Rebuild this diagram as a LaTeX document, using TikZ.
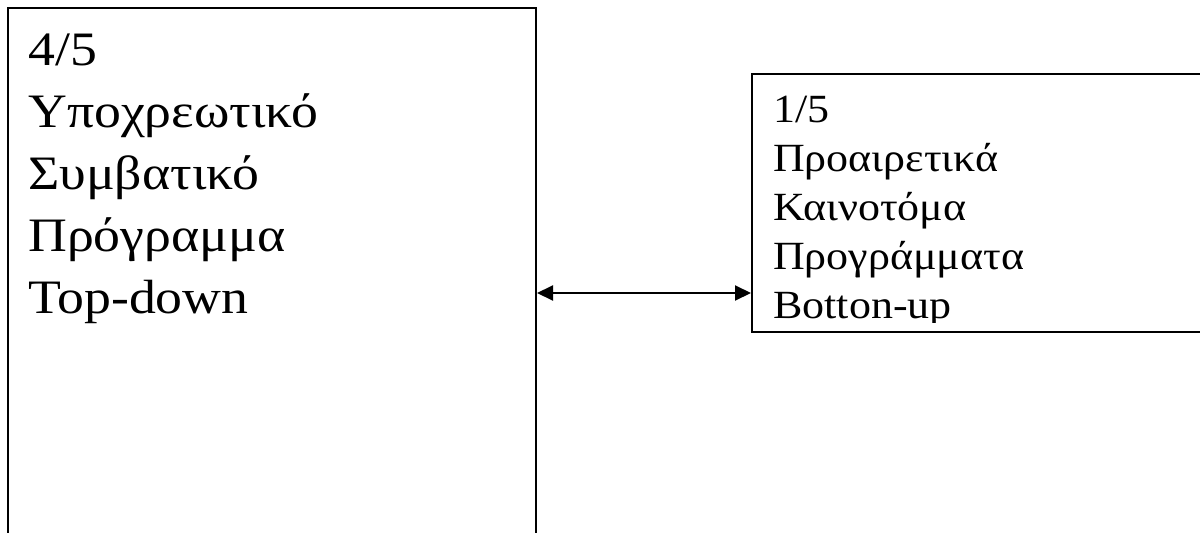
\documentclass[tikz,border=0pt]{standalone}
\usepackage{fontspec}
\usepackage{graphicx}
\setmainfont{Liberation Serif}
\usetikzlibrary{arrows.meta}

\begin{document}
\begin{tikzpicture}[x=1pt,y=1pt]
      \tikzstyle{frame} = [rectangle, draw, line width=2pt, inner sep=0pt, anchor=north west]
      \tikzstyle{bigline} = [anchor=base west, inner sep=0pt, font=\fontsize{48}{58}\selectfont]
      \tikzstyle{smallline} = [anchor=base west, inner sep=0pt, font=\fontsize{40}{48}\selectfont]
      \useasboundingbox (0,0) rectangle (1200,-533);
      \clip (0,0) rectangle (1200,-533);
      % the two boxes
      \node (compulsory) [frame, minimum width=528pt, minimum height=600pt] at (7,-7) {};
      \node (optional) [frame, minimum width=600pt, minimum height=258pt] at (751,-73) {};
      % left text
      \foreach \txt [count=\i] in {{4/5}, Υποχρεωτικό, Συμβατικό, Πρόγραμμα, Top-down}
        \node (l\i) [bigline] at (28,-65-62*\i+62) {\scalebox{1.12}[1]{\txt}};
      % right text, cut off at the bottom like the original
      \begin{scope}
        \clip (751,-73) rectangle (1200,-322);
        \foreach \txt [count=\i] in {{1/5}, Προαιρετικά, Καινοτόμα, Προγράμματα, Botton-up}
          \node (r\i) [smallline] at (773,-122.7-49*\i+49) {\scalebox{1.1}[1]{\txt}};
      \end{scope}
      % connector
      \coordinate (level) at ([yshift=40pt]optional.south west);
      \draw [line width=2pt, {Triangle[length=16pt,width=15pt]}-{Triangle[length=16pt,width=15pt]}]
        (compulsory.east |- level)--(optional.west |- level);
\end{tikzpicture}
\end{document}
